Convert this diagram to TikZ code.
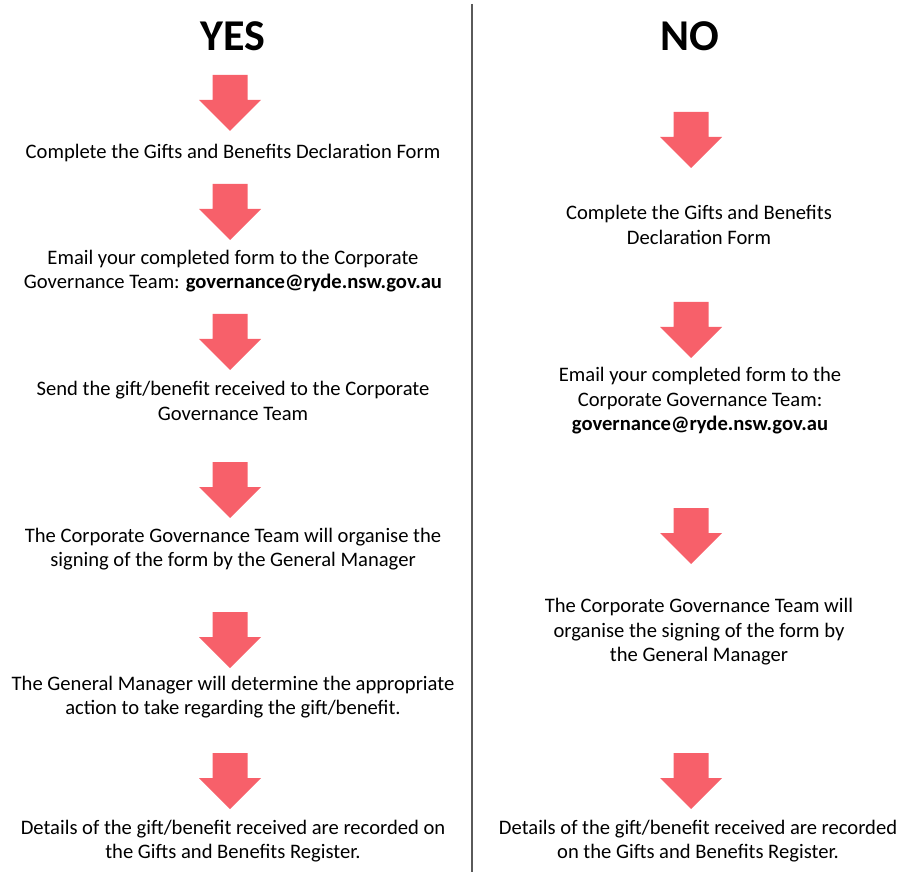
\documentclass[tikz,border=0pt]{standalone}
\usepackage{fontspec}
\setmainfont{Carlito}
\definecolor{arrowred}{RGB}{247,96,106}
\definecolor{rulegray}{RGB}{90,90,90}
% block arrow pointing down: x, top y
\newcommand{\flowarrow}[2]{%
  \fill[arrowred] (#1-17.5,#2) -- (#1+17.5,#2) -- (#1+17.5,#2+25)
    -- (#1+31,#2+25) -- (#1,#2+56) -- (#1-31,#2+25) -- (#1-17.5,#2+25) -- cycle;}

\begin{document}
\begin{tikzpicture}[x=1pt,y=-1pt,
    heading/.style={font=\fontsize{44}{50}\selectfont\bfseries},
    steptext/.style={align=center,inner sep=0pt,font=\fontsize{20.6}{24.5}\selectfont}]

          \useasboundingbox (0,0) rectangle (905,874);

          \node[heading] (yes) at (233,36) {YES};
          \node[heading] (no) at (690,36) {NO};

          \coordinate (top) at (472,4);
          \coordinate (bottom) at (472,872);
          \draw[rulegray,line width=1.6pt] (top)--(bottom);

          % left column
          \node[steptext] (Y1) at (233,153) {Complete the Gifts and Benefits Declaration Form};
          \node[steptext] (Y2) at (233,271) {Email your completed form to the Corporate\\Governance Team: \textbf{governance@ryde.nsw.gov.au}};
          \node[steptext] (Y3) at (233,401) {Send the gift/benefit received to the Corporate\\Governance Team};
          \node[steptext] (Y4) at (233,549) {The Corporate Governance Team will organise the\\signing of the form by the General Manager};
          \node[steptext] (Y5) at (233,697) {The General Manager will determine the appropriate\\action to take regarding the gift/benefit.};
          \node[steptext] (Y6) at (233,841) {Details of the gift/benefit received are recorded on\\the Gifts and Benefits Register.};

          \flowarrow{230}{75}
          \flowarrow{230}{184}
          \flowarrow{230}{314}
          \flowarrow{230}{462}
          \flowarrow{230}{612}
          \flowarrow{230}{753}

          % right column
          \node[steptext] (N1) at (699,225) {Complete the Gifts and Benefits\\Declaration Form};
          \node[steptext] (N2) at (700,401) {Email your completed form to the\\Corporate Governance Team:\\\textbf{governance@ryde.nsw.gov.au}};
          \node[steptext] (N3) at (699,632) {The Corporate Governance Team will\\organise the signing of the form by\\the General Manager};
          \node[steptext] (N4) at (698,841) {Details of the gift/benefit received are recorded\\on the Gifts and Benefits Register.};

          \flowarrow{691}{112}
          \flowarrow{691}{302}
          \flowarrow{691}{508}
          \flowarrow{691}{753}

        \end{tikzpicture}
\end{document}
